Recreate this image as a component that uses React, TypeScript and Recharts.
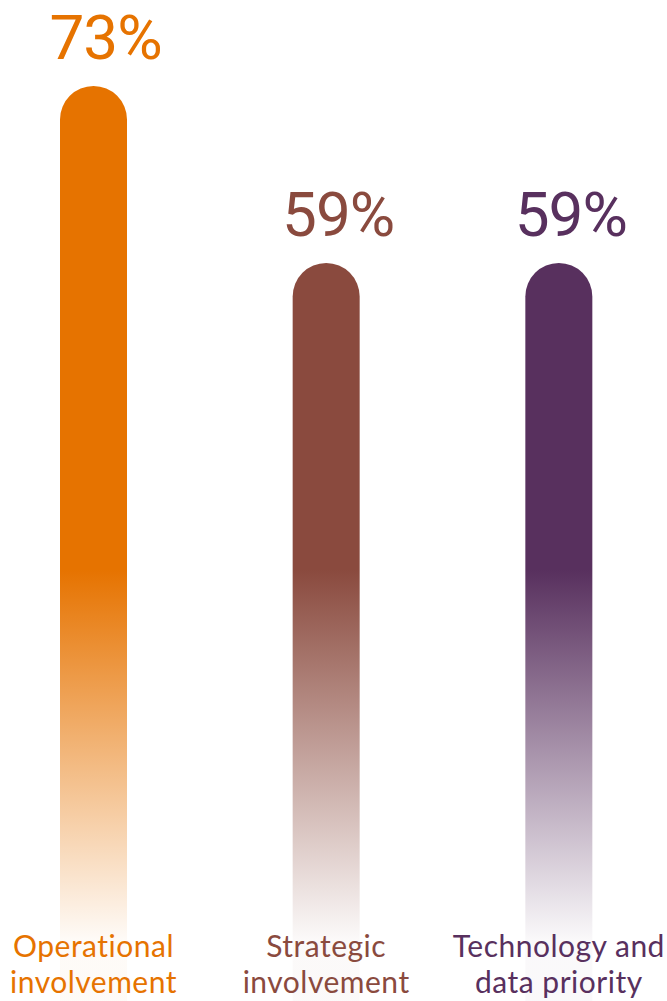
import { Bar, BarChart, Cell, LabelList, XAxis, YAxis } from 'recharts'

const categories = ['Operational|involvement', 'Strategic|involvement', 'Technology and|data priority']
const shares = [73, 59, 59]

const COLORS = ['#E67300', '#8A4A3E', '#58305E']

const data = categories.map((category, i) => ({ category, share: shares[i] }))

function PercentLabel(props: any) {
  const { x, y, width, value, index } = props
  return (
    <text
      x={x + width / 2 + 12}
      y={y - 27}
      textAnchor="middle"
      fill={COLORS[index]}
      fontFamily="Roboto, sans-serif"
      fontWeight={400}
      fontSize={62}
      letterSpacing={-1}
    >
      {value}%
    </text>
  )
}

function CategoryLabel(props: any) {
  const { x, y, width, height, value, index } = props
  const lines = String(value).split('|')
  const bottom = y + height
  return (
    <g>
      {lines.map((line, i) => (
        <text
          key={i}
          x={x + width / 2}
          y={bottom - 52 + i * 36}
          textAnchor="middle"
          fill={COLORS[index]}
          fontFamily="Lato, sans-serif"
          fontSize={30}
          letterSpacing={0.5}
        >
          {line}
        </text>
      ))}
    </g>
  )
}

export default function App() {
  return (
    <div style={{ position: 'fixed', left: 0, top: 0, width: 667, height: 1001, overflow: 'hidden', background: '#fff' }}>
      <div style={{ position: 'absolute', left: -23, top: 0 }}>
        <BarChart width={698} height={1010} data={data} margin={{ top: 86, right: 0, left: 0, bottom: 1 }}>
          <defs>
            {COLORS.map((c, i) => (
              <linearGradient key={i} id={`fade-${i}`} gradientUnits="userSpaceOnUse" x1="0" y1="570" x2="0" y2="940">
                <stop offset="0" stopColor={c} stopOpacity={1} />
                <stop offset="1" stopColor={c} stopOpacity={0.03} />
              </linearGradient>
            ))}
          </defs>
          <XAxis dataKey="category" hide />
          <YAxis hide domain={[0, 73]} />
          <Bar dataKey="share" barSize={67} radius={[33.5, 33.5, 0, 0]} isAnimationActive={false}>
            {data.map((_, i) => (
              <Cell key={i} fill={`url(#fade-${i})`} />
            ))}
            <LabelList dataKey="share" content={<PercentLabel />} />
            <LabelList dataKey="category" content={<CategoryLabel />} />
          </Bar>
        </BarChart>
      </div>
    </div>
  )
}
